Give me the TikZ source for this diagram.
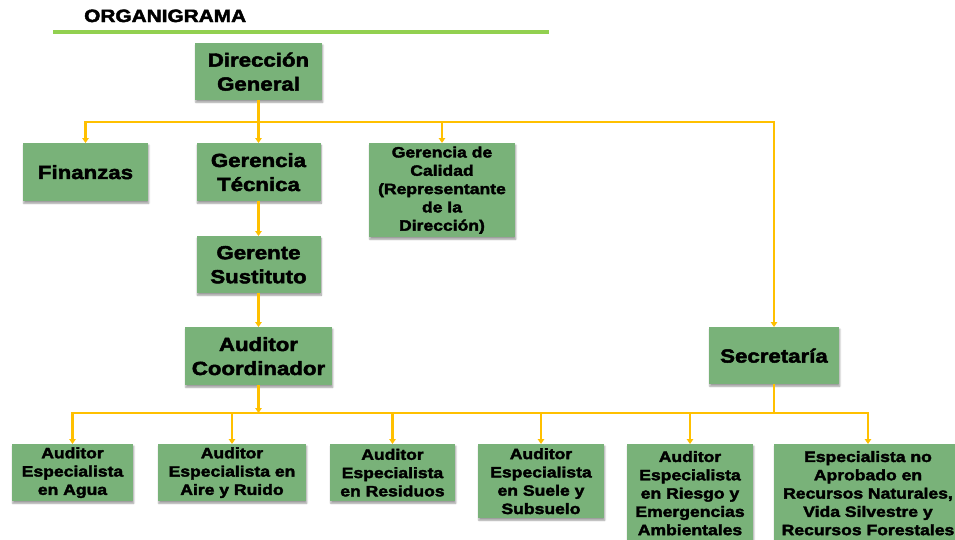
\documentclass[tikz,border=0pt]{standalone}
\usepackage{fontspec}
\newfontfamily\orgfont{Liberation Sans Bold}[FakeStretch=1.17, FakeBold=2.5]
\usepackage{tikz}
\usetikzlibrary{shadows.blur,arrows.meta}
\definecolor{organgreen}{RGB}{121,178,121}
\definecolor{organgold}{RGB}{255,192,0}
\definecolor{organline}{RGB}{146,208,80}

\begin{document}
\begin{tikzpicture}[x=1pt, y=-1pt,
    greenbox/.style={rectangle, fill=organgreen, text=black, inner sep=1pt, align=center, anchor=north,
                     font=\orgfont\fontsize{19}{24}\selectfont,
                     blur shadow={shadow blur steps=5, shadow xshift=0.8pt, shadow yshift=-2pt}},
    smallbox/.style={greenbox, font=\orgfont\fontsize{15}{18.3}\selectfont},
    connector/.style={line width=2.2pt, draw=organgold},
    arrowline/.style={connector, -{Triangle[width=6.5pt,length=5pt]}}
]
    \useasboundingbox (0,0) rectangle (955,539);
    \clip (0,0) rectangle (955,539);

    % Title
    \node[anchor=base west, inner sep=0pt, font=\orgfont\fontsize{17.8}{20}\selectfont] (title) at (84,22) {ORGANIGRAMA};
    \draw[line width=4pt, draw=organline] (53,32) -- (549,32);

    % Level 1 - Root
    \node[greenbox, minimum width=127pt, minimum height=57pt] (dir) at (258.5,43) {Dirección\\General};

    % Level 2
    \node[greenbox, minimum width=125pt, minimum height=58pt] (fin) at (85.5,143) {Finanzas};
    \node[greenbox, minimum width=124pt, minimum height=58pt] (gertec) at (258.5,143) {Gerencia\\Técnica};
    \node[smallbox, minimum width=146pt, minimum height=94pt, inner sep=0pt] (gercal) at (442,143) {Gerencia de\\Calidad\\(Representante\\de la\\Dirección)};

    % Level 3
    \node[greenbox, minimum width=124pt, minimum height=57pt] (gersus) at (258.5,236) {Gerente\\Sustituto};
    \node[greenbox, minimum width=147pt, minimum height=58pt] (audcoor) at (258.5,327) {Auditor\\Coordinador};
    \node[greenbox, minimum width=130pt, minimum height=57pt] (sec) at (774,327) {Secretaría};

    % Level 4 - Specialists
    \node[smallbox, minimum width=121pt, minimum height=57pt] (agua) at (72.5,444) {Auditor\\Especialista\\en Agua};
    \node[smallbox, minimum width=148pt, minimum height=57pt] (aire) at (232,444) {Auditor\\Especialista en\\Aire y Ruido};
    \node[smallbox, minimum width=125pt, minimum height=57pt] (resid) at (392.5,444) {Auditor\\Especialista\\en Residuos};
    \node[smallbox, minimum width=126pt, minimum height=74pt] (suelo) at (541,444) {Auditor\\Especialista\\en Suele y\\Subsuelo};
    \node[smallbox, minimum width=126pt, minimum height=98pt] (riesgo) at (690,444) {Auditor\\Especialista\\en Riesgo y\\Emergencias\\Ambientales};
    \node[smallbox, minimum width=188pt, minimum height=98pt] (recnat) at (868,444) {Especialista no\\Aprobado en\\Recursos Naturales,\\Vida Silvestre y\\Recursos Forestales};

    % Bus points
    \coordinate (topbus) at (258.5,122);
    \coordinate (lowbus) at (258.5,413);

    % Connections
    \draw[connector] (dir.south) -- (topbus);
    \draw[arrowline] (topbus) -| (fin.north);
    \draw[arrowline] (topbus) -- (gertec.north);
    \draw[arrowline] (topbus) -| (gercal.north);
    \draw[arrowline] (topbus) -| (sec.north);
    \draw[arrowline] (gertec) -- (gersus);
    \draw[arrowline] (gersus) -- (audcoor);
    \draw[arrowline] (audcoor.south) -- (lowbus);
    \draw[connector] (sec.south) -- (sec.south |- lowbus);
    \draw[arrowline] (lowbus) -| (agua.north);
    \draw[arrowline] (lowbus) -| (aire.north);
    \draw[arrowline] (lowbus) -| (resid.north);
    \draw[arrowline] (lowbus) -| (suelo.north);
    \draw[arrowline] (lowbus) -| (riesgo.north);
    \draw[arrowline] (lowbus) -| (recnat.north);
\end{tikzpicture}
\end{document}
